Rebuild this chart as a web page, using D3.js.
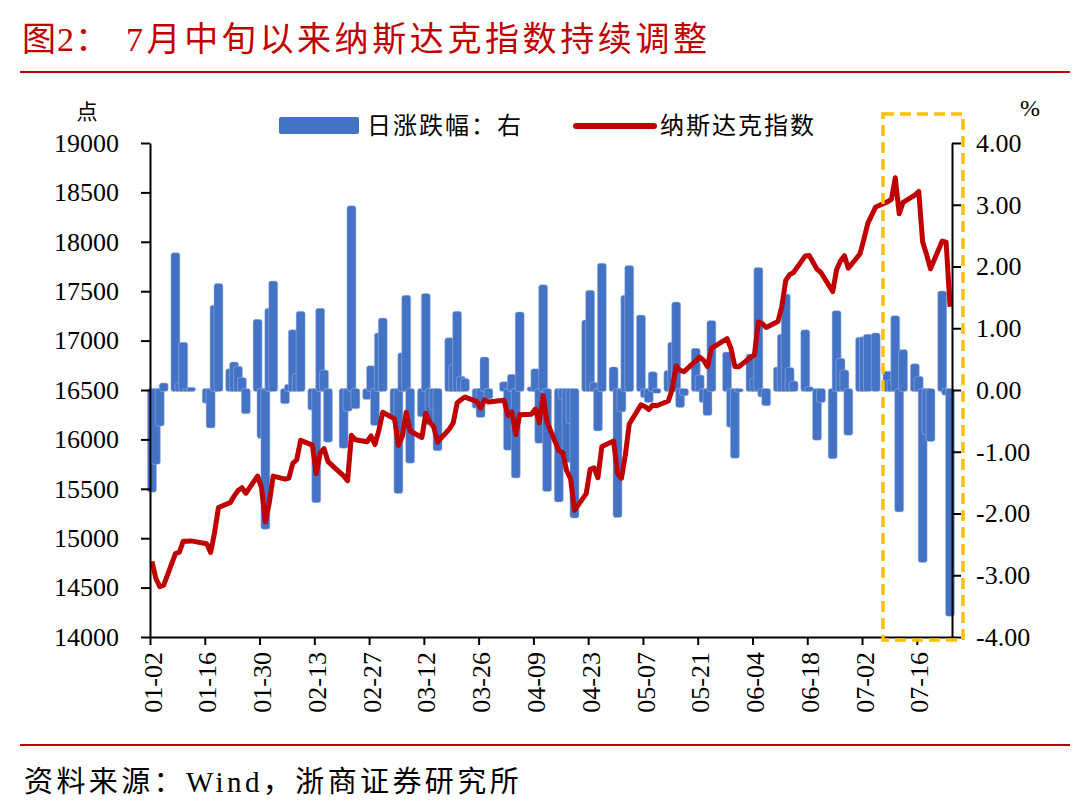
<!DOCTYPE html>
<html>
<head>
<meta charset="utf-8">
<script src="https://cdn.jsdelivr.net/npm/d3@7"></script>
<style>
  body { margin: 0; background: #ffffff; }
  svg { display: block; }
</style>
</head>
<body>
<div id="root"></div>
<script>
// Trading days, Nasdaq close and daily change (%)
var dates = ["2024-01-02","2024-01-03","2024-01-04","2024-01-05","2024-01-08","2024-01-09","2024-01-10","2024-01-11","2024-01-12",
  "2024-01-16","2024-01-17","2024-01-18","2024-01-19","2024-01-22","2024-01-23","2024-01-24","2024-01-25","2024-01-26",
  "2024-01-29","2024-01-30","2024-01-31","2024-02-01","2024-02-02","2024-02-05","2024-02-06","2024-02-07","2024-02-08","2024-02-09",
  "2024-02-12","2024-02-13","2024-02-14","2024-02-15","2024-02-16","2024-02-20","2024-02-21","2024-02-22","2024-02-23",
  "2024-02-26","2024-02-27","2024-02-28","2024-02-29","2024-03-01","2024-03-04","2024-03-05","2024-03-06","2024-03-07","2024-03-08",
  "2024-03-11","2024-03-12","2024-03-13","2024-03-14","2024-03-15","2024-03-18","2024-03-19","2024-03-20","2024-03-21","2024-03-22",
  "2024-03-25","2024-03-26","2024-03-27","2024-03-28","2024-04-01","2024-04-02","2024-04-03","2024-04-04","2024-04-05",
  "2024-04-08","2024-04-09","2024-04-10","2024-04-11","2024-04-12","2024-04-15","2024-04-16","2024-04-17","2024-04-18","2024-04-19",
  "2024-04-22","2024-04-23","2024-04-24","2024-04-25","2024-04-26","2024-04-29","2024-04-30","2024-05-01","2024-05-02","2024-05-03",
  "2024-05-06","2024-05-07","2024-05-08","2024-05-09","2024-05-10","2024-05-13","2024-05-14","2024-05-15","2024-05-16","2024-05-17",
  "2024-05-20","2024-05-21","2024-05-22","2024-05-23","2024-05-24","2024-05-28","2024-05-29","2024-05-30","2024-05-31",
  "2024-06-03","2024-06-04","2024-06-05","2024-06-06","2024-06-07","2024-06-10","2024-06-11","2024-06-12","2024-06-13","2024-06-14",
  "2024-06-17","2024-06-18","2024-06-20","2024-06-21","2024-06-24","2024-06-25","2024-06-26","2024-06-27","2024-06-28",
  "2024-07-01","2024-07-02","2024-07-03","2024-07-05","2024-07-08","2024-07-09","2024-07-10","2024-07-11","2024-07-12",
  "2024-07-15","2024-07-16","2024-07-17","2024-07-18","2024-07-19","2024-07-22","2024-07-23","2024-07-24"];

var closes = [14765.94,14592.21,14510.30,14524.07,14843.77,14857.71,14969.65,14970.19,14972.76,
  14944.35,14855.62,15055.65,15310.97,15360.29,15425.94,15481.92,15510.50,15455.36,
  15628.04,15509.90,15164.01,15361.64,15628.95,15597.68,15609.00,15756.64,15793.71,15990.66,
  15942.55,15655.60,15859.15,15906.17,15775.65,15630.78,15580.87,16041.62,15996.82,
  15976.25,16035.30,15947.74,16091.92,16274.94,16207.51,15939.59,16031.54,16273.38,16085.11,
  16019.27,16265.64,16177.77,16128.53,15973.17,16103.45,16166.79,16369.41,16401.84,16428.82,
  16384.47,16315.70,16399.52,16379.46,16396.83,16240.45,16277.46,16049.08,16248.52,
  16253.96,16306.64,16170.36,16442.20,16175.09,15885.02,15865.25,15683.37,15601.50,15282.01,
  15451.31,15696.64,15712.75,15611.76,15927.90,15983.08,15657.82,15605.48,15840.96,16156.33,
  16349.25,16332.56,16302.76,16346.26,16340.87,16388.24,16511.18,16742.39,16698.32,16685.97,
  16794.87,16832.62,16801.54,16736.03,16920.79,17019.88,16920.58,16737.08,16735.02,
  16828.67,16857.05,17187.90,17173.12,17133.13,17192.53,17343.55,17608.44,17667.56,17688.88,
  17857.02,17862.23,17721.59,17689.36,17496.82,17717.65,17805.16,17858.68,17732.60,
  17879.30,18028.76,18188.30,18352.76,18403.74,18429.29,18647.45,18283.41,18398.45,
  18472.57,18509.34,17996.92,17871.22,17726.94,18007.57,17997.35,17342.41];

var changes = [-1.63,-1.18,-0.56,0.09,2.20,0.09,0.75,0.00,0.02,
  -0.19,-0.59,1.35,1.70,0.32,0.43,0.36,0.18,-0.36,
  1.12,-0.76,-2.23,1.30,1.74,-0.20,0.07,0.95,0.24,1.25,
  -0.30,-1.80,1.30,0.30,-0.82,-0.92,-0.32,2.96,-0.28,
  -0.13,0.37,-0.55,0.90,1.14,-0.41,-1.65,0.58,1.51,-1.16,
  -0.41,1.54,-0.54,-0.30,-0.96,0.82,0.39,1.25,0.20,0.16,
  -0.27,-0.42,0.51,-0.12,0.11,-0.95,0.23,-1.40,1.24,
  0.03,0.32,-0.84,1.68,-1.62,-1.79,-0.12,-1.15,-0.52,-2.05,
  1.11,1.59,0.10,-0.64,2.03,0.35,-2.04,-0.33,1.51,1.99,
  1.19,-0.10,-0.18,0.27,-0.03,0.29,0.75,1.40,-0.26,-0.07,
  0.65,0.22,-0.18,-0.39,1.10,0.59,-0.58,-1.08,-0.01,
  0.56,0.17,1.96,-0.09,-0.23,0.35,0.88,1.53,0.34,0.12,
  0.95,0.03,-0.79,-0.18,-1.09,1.26,0.49,0.30,-0.71,
  0.83,0.84,0.88,0.90,0.28,0.14,1.18,-1.95,0.63,
  0.40,0.20,-2.77,-0.70,-0.81,1.58,-0.06,-3.64];

var xTickLabels = ["01-02","01-16","01-30","02-13","02-27","03-12","03-26","04-09","04-23","05-07","05-21","06-04","06-18","07-02","07-16"];
var leftTicks = [14000,14500,15000,15500,16000,16500,17000,17500,18000,18500,19000];
var rightTicks = [-4,-3,-2,-1,0,1,2,3,4];

var data = dates.map(function(d, i) {
  return {date: new Date(d + "T12:00:00Z"), close: closes[i], change: changes[i]};
});

var serif = "'Liberation Serif', 'Times New Roman', 'Noto Sans CJK SC', serif";
var cjk = "'Noto Sans CJK SC', sans-serif";
var red = "#C00000";
var blue = "#4472C4";

// Set the dimensions of the plot area
var W = 1080, H = 810;
var plot = {left: 150, right: 952, top: 143, bottom: 637};

var svg = d3.select("#root")
  .append("svg")
  .attr("width", W)
  .attr("height", H);

// Title and rules
svg.append("text")
  .attr("x", 22)
  .attr("y", 51)
  .attr("fill", red)
  .attr("font-family", serif)
  .attr("font-size", 34)
  .style("letter-spacing", "1px")
  .text("图2：");

svg.append("text")
  .attr("x", 126)
  .attr("y", 51)
  .attr("fill", red)
  .attr("font-family", serif)
  .attr("font-size", 34)
  .style("letter-spacing", "3.6px")
  .text("7月中旬以来纳斯达克指数持续调整");

svg.append("line")
  .attr("x1", 20).attr("x2", 1070)
  .attr("y1", 72).attr("y2", 72)
  .attr("stroke", red)
  .attr("stroke-width", 2);

svg.append("line")
  .attr("x1", 20).attr("x2", 1070)
  .attr("y1", 745).attr("y2", 745)
  .attr("stroke", red)
  .attr("stroke-width", 2);

svg.append("text")
  .attr("x", 24)
  .attr("y", 792)
  .attr("fill", "#000")
  .attr("font-family", serif)
  .attr("font-size", 29)
  .style("letter-spacing", "3.4px")
  .text("资料来源：Wind，浙商证券研究所");

// Scales
var x = d3.scaleUtc()
  .domain([new Date("2024-01-02T00:00:00Z"), new Date("2024-07-25T00:00:00Z")])
  .range([plot.left, plot.right]);

var yLeft = d3.scaleLinear()
  .domain([14000, 19000])
  .range([plot.bottom, plot.top]);

var yRight = d3.scaleLinear()
  .domain([-4, 4])
  .range([plot.bottom, plot.top]);

// Bars of daily change
svg.append("g")
  .selectAll("rect")
  .data(data)
  .enter().append("rect")
  .attr("x", function(d) { return x(d.date) - 4.5; })
  .attr("y", function(d) { return yRight(Math.max(0, d.change)) - 1.5; })
  .attr("width", 9)
  .attr("height", function(d) { return Math.abs(yRight(d.change) - yRight(0)) + 3; })
  .attr("rx", 2.5)
  .attr("fill", blue)
  .attr("stroke", "#a9bde6")
  .attr("stroke-width", 0.5);

// Nasdaq line
var line = d3.line()
  .x(function(d) { return x(d.date); })
  .y(function(d) { return yLeft(d.close); });

svg.append("path")
  .datum(data)
  .attr("d", line)
  .attr("fill", "none")
  .attr("stroke", red)
  .attr("stroke-width", 5)
  .attr("stroke-linejoin", "round");

// Left axis
var leftAxis = svg.append("g")
  .attr("transform", "translate(" + plot.left + ",0)")
  .call(d3.axisLeft(yLeft).tickValues(leftTicks).tickSize(9).tickSizeOuter(0).tickPadding(22).tickFormat(d3.format("d")));

// Right axis (plain hyphen for negatives)
var pct = function(d) { return d3.format(".2f")(d).replace("\u2212", "-"); };
var rightAxis = svg.append("g")
  .attr("transform", "translate(" + plot.right + ",0)")
  .call(d3.axisRight(yRight).tickValues(rightTicks).tickSize(9).tickSizeOuter(0).tickPadding(15).tickFormat(pct));

// Bottom axis
var tickDates = xTickLabels.map(function(t) { return new Date("2024-" + t + "T00:00:00Z"); });
var bottomAxis = svg.append("g")
  .attr("transform", "translate(0," + plot.bottom + ")")
  .call(d3.axisBottom(x).tickValues(tickDates).tickSize(8).tickSizeOuter(0).tickFormat(function(d, i) { return xTickLabels[i]; }));

bottomAxis.selectAll("text")
  .attr("transform", "rotate(-90)")
  .attr("text-anchor", "end")
  .attr("x", -15)
  .attr("y", 2)
  .attr("dy", "0.35em");

[leftAxis, rightAxis, bottomAxis].forEach(function(a) {
  a.select(".domain").attr("stroke", "#000").attr("stroke-width", 2);
  a.selectAll(".tick line").attr("stroke", "#000").attr("stroke-width", 2);
  a.selectAll("text")
    .attr("fill", "#000")
    .attr("font-family", serif)
    .attr("font-size", 26);
});

// Axis units
svg.append("text")
  .attr("x", 87).attr("y", 119)
  .attr("text-anchor", "middle")
  .attr("font-family", cjk)
  .attr("font-size", 21)
  .text("点");

svg.append("text")
  .attr("x", 1030).attr("y", 116)
  .attr("text-anchor", "middle")
  .attr("font-family", serif)
  .attr("font-size", 24)
  .text("%");

// Legend
svg.append("rect")
  .attr("x", 279).attr("y", 117)
  .attr("width", 80).attr("height", 17)
  .attr("rx", 2)
  .attr("fill", blue);

svg.append("text")
  .attr("x", 367).attr("y", 134)
  .attr("font-family", serif)
  .attr("font-size", 24)
  .style("letter-spacing", "2px")
  .text("日涨跌幅：右");

svg.append("line")
  .attr("x1", 576).attr("x2", 654)
  .attr("y1", 126).attr("y2", 126)
  .attr("stroke", red)
  .attr("stroke-width", 6)
  .attr("stroke-linecap", "round");

svg.append("text")
  .attr("x", 660).attr("y", 134)
  .attr("font-family", serif)
  .attr("font-size", 24)
  .style("letter-spacing", "2px")
  .text("纳斯达克指数");

// Highlight box over mid-July
svg.append("rect")
  .attr("x", 883).attr("y", 114)
  .attr("width", 80).attr("height", 526)
  .attr("fill", "none")
  .attr("stroke", "#FFC000")
  .attr("stroke-width", 3.5)
  .attr("stroke-dasharray", "11,6");
</script>
</body>
</html>
